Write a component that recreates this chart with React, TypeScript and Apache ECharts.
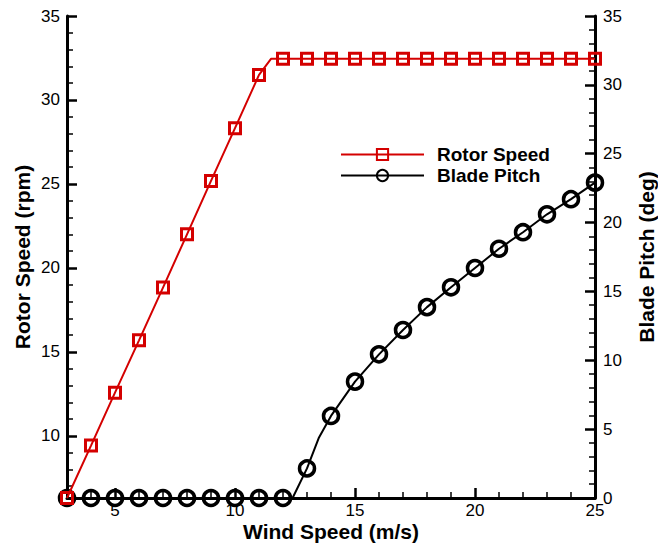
import React, { useEffect, useRef } from "react";
import * as echarts from "echarts";

// ---- Data ----
const windSpeed = [3, 4, 5, 6, 7, 8, 9, 10, 11, 12, 13, 14, 15, 16, 17, 18, 19, 20, 21, 22, 23, 24, 25];
const rotorSpeed = [6.3, 9.42, 12.57, 15.69, 18.83, 22.0, 25.18, 28.32, 31.49, 32.45, 32.45, 32.45, 32.45, 32.45, 32.45, 32.45, 32.45, 32.45, 32.45, 32.45, 32.45, 32.45, 32.45];
const bladePitch = [0, 0, 0, 0, 0, 0, 0, 0, 0, 0, 2.15, 5.96, 8.45, 10.43, 12.2, 13.86, 15.3, 16.7, 18.1, 19.3, 20.6, 21.7, 22.9];
// line-only points (no marker) where the curves bend
const rotorKnee = [11.5, 32.45];
const pitchOnset = [12.4, 0];
const pitchBend = [13.5, 4.4];

const xMajorTicks = [5, 10, 15, 20, 25];
const xMinorTicks = [4, 6, 7, 8, 9, 11, 12, 13, 14, 16, 17, 18, 19, 21, 22, 23, 24];
const rotorMajorTicks = [10, 15, 20, 25, 30, 35];
const rotorMinorTicks = [7, 8, 9, 11, 12, 13, 14, 16, 17, 18, 19, 21, 22, 23, 24, 26, 27, 28, 29, 31, 32, 33, 34];

const RED = "#d40000";
const FONT = "'Liberation Sans', Arial, sans-serif";

function buildData(xs: number[], ys: number[], extras: number[][]) {
  const pts: any[] = xs.map((x, i) => ({ value: [x, ys[i]] }));
  extras.forEach((p) => pts.push({ value: p, symbol: "none", symbolSize: 0 }));
  pts.sort((a, b) => a.value[0] - b.value[0]);
  return pts;
}

export default function App() {
  const ref = useRef<HTMLDivElement>(null);
  useEffect(() => {
    if (!ref.current) return;
    document.body.style.margin = "0";
    const chart = echarts.init(ref.current, undefined, { renderer: "svg", width: 658, height: 544 });
    const axisLine = { show: true, onZero: false, lineStyle: { color: "#000", width: 3 } };
    const majorTick = (vals?: number[]) => ({
      show: true,
      inside: true,
      length: 10,
      lineStyle: { color: "#000", width: 2.5 },
      ...(vals ? { customValues: vals } : {}),
    });
    const minorTick = (vals: number[]) => ({
      show: true,
      inside: true,
      length: 6,
      lineStyle: { color: "#000", width: 1.5 },
      customValues: vals,
    });
    const label = { color: "#000", fontSize: 17, fontFamily: FONT };
    const nameStyle = (size: number) => ({ color: "#000", fontSize: size, fontWeight: "bold" as const, fontFamily: FONT });

    chart.setOption({
      animation: false,
      backgroundColor: "#fff",
      grid: { left: 67, right: 63, top: 16, bottom: 46, containLabel: false, outerBoundsMode: "none" },
      legend: {
        left: 340,
        top: 145,
        padding: 0,
        orient: "vertical",
        itemWidth: 83,
        itemHeight: 14,
        itemGap: 2,
        textStyle: { color: "#000", fontSize: 19, fontWeight: "bold", fontFamily: FONT, padding: [0, 0, 0, 8] },
        data: ["Rotor Speed", "Blade Pitch"],
      },
      xAxis: [
        {
          type: "value",
          min: 3,
          max: 25,
          position: "bottom",
          axisLine,
          axisTick: majorTick(xMajorTicks),
          axisLabel: { ...label, margin: 4, customValues: xMajorTicks },
          splitLine: { show: false },
          name: "Wind Speed (m/s)",
          nameLocation: "middle",
          nameGap: 23,
          nameMoveOverlap: false,
          nameTextStyle: nameStyle(21),
        },
        {
          type: "value",
          min: 3,
          max: 25,
          position: "bottom",
          axisLine: { show: false },
          axisTick: minorTick(xMinorTicks),
          axisLabel: { show: false },
          splitLine: { show: false },
        },
      ],
      yAxis: [
        {
          type: "value",
          min: 6.3,
          max: 35,
          position: "left",
          axisLine,
          axisTick: majorTick(rotorMajorTicks),
          axisLabel: { ...label, margin: 7, customValues: rotorMajorTicks },
          splitLine: { show: false },
          name: "Rotor Speed (rpm)",
          nameLocation: "middle",
          nameGap: 34,
          nameMoveOverlap: false,
          nameTextStyle: nameStyle(21),
        },
        {
          type: "value",
          min: 6.3,
          max: 35,
          position: "left",
          axisLine: { show: false },
          axisTick: minorTick(rotorMinorTicks),
          axisLabel: { show: false },
          splitLine: { show: false },
        },
        {
          type: "value",
          min: 0,
          max: 35,
          interval: 5,
          position: "right",
          axisLine,
          axisTick: majorTick(),
          minorTick: { show: true, splitNumber: 5, length: 6, lineStyle: { color: "#000", width: 1.5 } },
          axisLabel: { ...label, margin: 8 },
          splitLine: { show: false },
          minorSplitLine: { show: false },
          name: "Blade Pitch (deg)",
          nameLocation: "middle",
          nameGap: 41,
          nameMoveOverlap: false,
          nameTextStyle: nameStyle(21),
        },
      ],
      series: [
        {
          name: "Rotor Speed",
          type: "line",
          xAxisIndex: 0,
          yAxisIndex: 0,
          clip: false,
          data: buildData(windSpeed, rotorSpeed, [rotorKnee]),
          symbol: "rect",
          symbolSize: 11,
          showAllSymbol: true,
          lineStyle: { color: RED, width: 2 },
          itemStyle: { color: "rgba(0,0,0,0)", borderColor: RED, borderWidth: 3 },
          z: 3,
        },
        {
          name: "Blade Pitch",
          type: "line",
          xAxisIndex: 0,
          yAxisIndex: 2,
          clip: false,
          data: buildData(windSpeed, bladePitch, [pitchOnset, pitchBend]),
          symbol: "circle",
          symbolSize: 15,
          showAllSymbol: true,
          lineStyle: { color: "#000", width: 2 },
          itemStyle: { color: "rgba(0,0,0,0)", borderColor: "#000", borderWidth: 3.5 },
          z: 2,
        },
      ],
    });
    return () => chart.dispose();
  }, []);
  return <div ref={ref} style={{ width: 658, height: 544, background: "#fff" }} />;
}
